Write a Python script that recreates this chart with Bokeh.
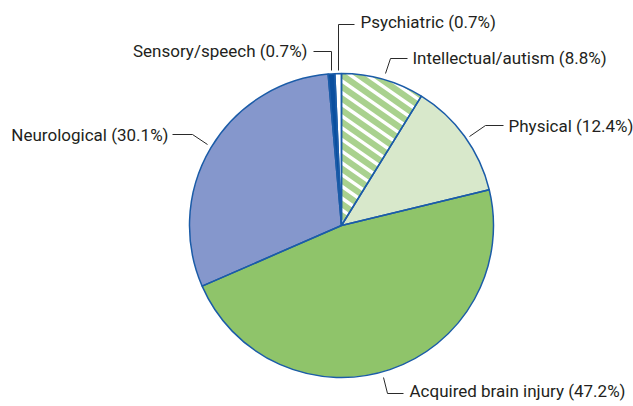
import math
import pandas as pd
from bokeh.plotting import figure
from bokeh.models import Range1d, ColumnDataSource
from bokeh.core.properties import value
from bokeh.embed import file_html
from bokeh.resources import INLINE

# ---- data (clockwise from 12 o'clock) ----
categories = ["Intellectual/autism", "Physical", "Acquired brain injury",
              "Neurological", "Sensory/speech", "Psychiatric"]
percent = [8.8, 12.4, 47.2, 30.1, 0.7, 0.7]

# ---- styles ----
fills = ["#a9d18e", "#d8e8cb", "#8fc46a", "#8597cc", "#0b4f9f", "#ffffff"]
striped = [True, False, False, False, False, False]
EDGE = "#1b5ca8"
TEXT = "#231f20"
FONT = "Roboto"
STRIPE_ANGLE = 35.0   # degrees below horizontal
STRIPE_PERIOD = 9.6
STRIPE_WIDTH = 3.4

W, H = 633, 406
CX, CY, R = 341, 225, 152

def X(x):
    return x

def Y(y):
    return 406 - y

# leader polylines and label anchors (reference pixel layout)
leaders = {
    "Intellectual/autism": ([385, 390, 407], [73, 58, 58], 412, 57, "left"),
    "Physical": ([469, 485, 503], [136, 125, 125], 508, 125, "left"),
    "Acquired brain injury": ([383, 387, 403], [377, 393, 393], 409, 390, "left"),
    "Neurological": ([207, 192, 172], [144, 134, 134], 168, 134, "right"),
    "Sensory/speech": ([331, 331, 313], [70, 51, 51], 307, 50, "right"),
    "Psychiatric": ([338, 338, 354], [70, 24, 24], 360, 21, "left"),
}

df = pd.DataFrame({"cat": categories, "pct": percent, "fill": fills})
total = df["pct"].sum()
df["frac"] = df["pct"] / total
df["cum_end"] = df["frac"].cumsum()
df["cum_start"] = df["cum_end"] - df["frac"]
df["start"] = math.pi / 2 - df["cum_start"] * 2 * math.pi
df["end"] = math.pi / 2 - df["cum_end"] * 2 * math.pi
df["x"] = X(CX)
df["y"] = Y(CY)
df["label"] = [f"{c} ({v:.1f}%)" for c, v in zip(categories, percent)]

p = figure(width=W, height=H, output_backend="svg", toolbar_location=None,
           x_range=Range1d(0, W), y_range=Range1d(406 - H, 406),
           min_border=0, min_border_left=0, min_border_right=0,
           min_border_top=0, min_border_bottom=0)
p.axis.visible = False
p.grid.visible = False
p.outline_line_color = None
p.background_fill_color = "white"
p.border_fill_color = "white"

src = ColumnDataSource(df)
p.wedge(x="x", y="y", radius=R, start_angle="start", end_angle="end",
        direction="clock", fill_color="fill", line_color=None, source=src)

# ---- white stripes clipped to striped wedges ----
def clip(poly, nx, ny, c, keep_ge):
    out = []
    n = len(poly)
    for i in range(n):
        ax, ay = poly[i]
        bx, by = poly[(i + 1) % n]
        da = nx * ax + ny * ay - c
        db = nx * bx + ny * by - c
        ina = da >= 0 if keep_ge else da <= 0
        inb = db >= 0 if keep_ge else db <= 0
        if ina:
            out.append((ax, ay))
        if ina != inb:
            t = da / (da - db)
            out.append((ax + t * (bx - ax), ay + t * (by - ay)))
    return out

sx, sy = [], []
a = math.radians(STRIPE_ANGLE)
nx, ny = math.sin(a), math.cos(a)  # normal to stripes (data coords, y up)
for _, row in df[striped].iterrows():
    cx, cy = row["x"], row["y"]
    steps = 60
    poly = [(cx, cy)]
    for k in range(steps + 1):
        ang = row["start"] + (row["end"] - row["start"]) * k / steps
        poly.append((cx + R * math.cos(ang), cy + R * math.sin(ang)))
    proj = [nx * px + ny * py for px, py in poly]
    lo, hi = min(proj), max(proj)
    s = math.floor(lo / STRIPE_PERIOD) * STRIPE_PERIOD
    while s < hi:
        band = clip(poly, nx, ny, s, True)
        if band:
            band = clip(band, nx, ny, s + STRIPE_WIDTH, False)
        if len(band) >= 3:
            sx.append([q[0] for q in band])
            sy.append([q[1] for q in band])
        s += STRIPE_PERIOD

p.patches(xs=sx, ys=sy, fill_color="white", line_color=None)

# outlines on top
p.wedge(x="x", y="y", radius=R, start_angle="start", end_angle="end",
        direction="clock", fill_color=None, line_color=EDGE, line_width=1.5,
        source=src)

lx, ly, tx, ty, tt, ta = [], [], [], [], [], []
for cat, lab in zip(df["cat"], df["label"]):
    xs, ys, txp, typ, align = leaders[cat]
    lx.append([X(v) for v in xs])
    ly.append([Y(v) for v in ys])
    tx.append(X(txp)); ty.append(Y(typ)); tt.append(lab); ta.append(align)

p.multi_line(xs=lx, ys=ly, line_color="#2a2a2a", line_width=1)
p.text(x=tx, y=ty, text=tt, text_align=ta, text_baseline="middle",
       text_font=value(FONT), text_font_size="17px", text_color=TEXT)

open("out.html", "w").write(file_html(p, INLINE))
